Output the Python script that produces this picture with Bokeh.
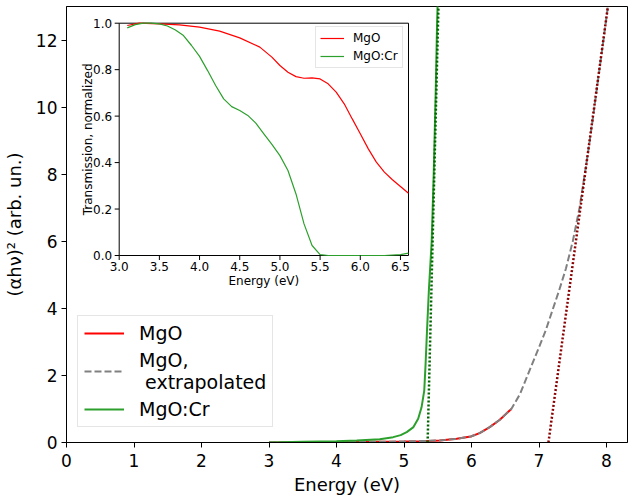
import math
from bokeh.plotting import figure
from bokeh.models import Range1d, Legend, LegendItem, FixedTicker
from bokeh.core.properties import value
from bokeh.embed import file_html
from bokeh.resources import INLINE

# ---------------- data (main plot) ----------------
energy_mgo = [3.0, 3.5, 4.0, 4.5, 5.0, 5.3, 5.53, 5.78, 5.99, 6.12, 6.27, 6.42, 6.59]
absorb_mgo = [0.0, 0.0, 0.01, 0.02, 0.03, 0.04, 0.06, 0.11, 0.18, 0.28, 0.46, 0.68, 1.0]

energy_extrap = [3.0, 4.0, 5.0, 5.53, 5.78, 5.99, 6.12, 6.27, 6.42, 6.59, 6.72, 6.85, 7.0,
                 7.1, 7.2, 7.3, 7.4, 7.5, 7.6, 7.7, 7.8, 7.9, 8.0, 8.05]
absorb_extrap = [0.0, 0.01, 0.03, 0.06, 0.11, 0.18, 0.28, 0.46, 0.68, 1.0, 1.45, 2.1, 2.84,
                 3.35, 3.95, 4.55, 5.2, 6.0, 7.0, 8.3, 9.7, 11.2, 12.7, 13.5]

energy_cr = [3.0, 3.5, 4.0, 4.3, 4.64, 4.84, 4.95, 5.04, 5.14, 5.21, 5.26, 5.30, 5.32, 5.34,
             5.37, 5.41, 5.44, 5.47, 5.49, 5.51]
absorb_cr = [0.0, 0.02, 0.04, 0.06, 0.1, 0.16, 0.22, 0.31, 0.46, 0.71, 1.05, 1.55, 2.35, 3.3,
             4.6, 6.0, 8.0, 10.5, 12.5, 14.0]

fit_mgo_x = [7.14, 8.04]
fit_mgo_y = [0.0, 13.3]
fit_cr_x = [5.35, 5.51]
fit_cr_y = [0.0, 13.0]

x_ticks = [0, 1, 2, 3, 4, 5, 6, 7, 8]
y_ticks = [0, 2, 4, 6, 8, 10, 12]

# ---------------- data (inset) ----------------
inset_energy_mgo = [3.1, 3.25, 3.5, 3.75, 4.0, 4.25, 4.5, 4.75, 4.9, 5.0, 5.1, 5.2, 5.3, 5.4,
                    5.5, 5.6, 5.7, 5.8, 5.9, 6.0, 6.1, 6.2, 6.3, 6.4, 6.5, 6.6]
inset_trans_mgo = [0.99, 1.0, 0.997, 0.993, 0.983, 0.966, 0.937, 0.897, 0.854, 0.818, 0.789,
                   0.770, 0.763, 0.765, 0.760, 0.739, 0.703, 0.653, 0.588, 0.524, 0.459, 0.402,
                   0.359, 0.326, 0.297, 0.268]
inset_energy_cr = [3.1, 3.2, 3.3, 3.4, 3.5, 3.6, 3.7, 3.8, 3.9, 4.0, 4.1, 4.2, 4.3, 4.4, 4.5,
                   4.6, 4.7, 4.8, 4.9, 5.0, 5.1, 5.2, 5.3, 5.4, 5.5, 5.6, 6.0, 6.3, 6.5, 6.6]
inset_trans_cr = [0.98, 0.994, 1.0, 1.0, 0.997, 0.988, 0.971, 0.947, 0.904, 0.857, 0.796, 0.732,
                  0.674, 0.641, 0.624, 0.603, 0.57, 0.524, 0.478, 0.430, 0.366, 0.265, 0.136,
                  0.043, 0.004, 0.0, 0.0, 0.0, 0.004, 0.01]
inset_xlim = [3.0, 6.6]
inset_ylim = [0.0, 1.0]
inset_x_ticks = [3.0, 3.5, 4.0, 4.5, 5.0, 5.5, 6.0, 6.5]
inset_x_labels = ["3.0", "3.5", "4.0", "4.5", "5.0", "5.5", "6.0", "6.5"]
inset_y_ticks = [0.0, 0.2, 0.4, 0.6, 0.8, 1.0]
inset_y_labels = ["0.0", "0.2", "0.4", "0.6", "0.8", "1.0"]

FONT = "DejaVu Sans"

# ---------------- layout (pixels) ----------------
FRAME_W, FRAME_H = 561, 436
X_PX = 67.5          # px per eV in main plot
Y_PX = 33.5          # px per unit in main plot

p = figure(frame_width=FRAME_W, frame_height=FRAME_H,
           min_border_left=58, min_border_right=1, min_border_top=6, min_border_bottom=48,
           x_range=Range1d(0, FRAME_W / X_PX), y_range=Range1d(0, FRAME_H / Y_PX),
           output_backend="svg", toolbar_location=None, background_fill_color="white")
p.grid.visible = False
p.outline_line_color = "black"
p.outline_line_width = 1

for ax in (p.xaxis[0], p.yaxis[0]):
    ax.major_tick_out = 5
    ax.major_tick_in = 0
    ax.minor_tick_out = 0
    ax.minor_tick_in = 0
    ax.axis_line_color = "black"
    ax.major_tick_line_color = "black"
    ax.major_label_text_font = FONT
    ax.major_label_text_font_size = "17px"
    ax.major_label_text_color = "black"
    ax.axis_label_text_font = FONT
    ax.axis_label_text_font_size = "18px"
    ax.axis_label_text_font_style = "normal"
    ax.axis_label_text_color = "black"
p.xaxis.ticker = FixedTicker(ticks=x_ticks)
p.yaxis.ticker = FixedTicker(ticks=y_ticks)
p.xaxis.axis_label = "Energy (eV)"
p.yaxis.axis_label = "(αhν)² (arb. un.)"
p.xaxis.major_label_standoff = 6
p.xaxis.axis_label_standoff = 4
p.yaxis.major_label_standoff = 4
p.yaxis.axis_label_standoff = 8

r_mgo = p.line(energy_mgo, absorb_mgo, line_color="#ff0000", line_width=2)
r_ext = p.line(energy_extrap, absorb_extrap, line_color="#808080", line_width=2, line_dash="7 3")
r_cr = p.line(energy_cr, absorb_cr, line_color="#2ca02c", line_width=2)
p.line(fit_mgo_x, fit_mgo_y, line_color="#8b0000", line_width=2.5, line_dash="2 2")
p.line(fit_cr_x, fit_cr_y, line_color="#006400", line_width=2.5, line_dash="2 2")

legend = Legend(items=[LegendItem(label="MgO", renderers=[r_mgo]),
                       LegendItem(label="MgO,\n extrapolated", renderers=[r_ext]),
                       LegendItem(label="MgO:Cr", renderers=[r_cr])],
                location=(11, 15), label_text_font=FONT, label_text_font_size="19px",
                label_text_color="black",
                glyph_width=40, glyph_height=22, label_height=22, label_standoff=15,
                spacing=5, padding=6, margin=0,
                border_line_color="#cccccc", border_line_width=1,
                background_fill_color="white", background_fill_alpha=0.8)
p.add_layout(legend)

# ---------------- inset (drawn on extra ranges) ----------------
inset_left_px, inset_right_px = 118.7 - 66, 408 - 66      # from frame left
inset_top_px, inset_bottom_px = 22.7 - 6, 255 - 6         # from frame top
ix_px = (inset_right_px - inset_left_px) / (inset_xlim[1] - inset_xlim[0])
iy_px = (inset_bottom_px - inset_top_px) / (inset_ylim[1] - inset_ylim[0])
ix_start = inset_xlim[0] - inset_left_px / ix_px
iy_start = inset_ylim[0] - (FRAME_H - inset_bottom_px) / iy_px
p.extra_x_ranges = {"ix": Range1d(ix_start, ix_start + FRAME_W / ix_px)}
p.extra_y_ranges = {"iy": Range1d(iy_start, iy_start + FRAME_H / iy_px)}
IR = dict(x_range_name="ix", y_range_name="iy")

p.quad(left=[inset_xlim[0]], right=[inset_xlim[1]], bottom=[inset_ylim[0]], top=[inset_ylim[1]],
       fill_color="white", line_color="black", line_width=1, **IR)
ri_mgo = p.line(inset_energy_mgo, inset_trans_mgo, line_color="#ff0000", line_width=1.2, **IR)
ri_cr = p.line(inset_energy_cr, inset_trans_cr, line_color="#2ca02c", line_width=1.2, **IR)

# inset ticks
p.ray(x=inset_x_ticks, y=[inset_ylim[0]] * len(inset_x_ticks), length=4.5, length_units="screen",
      angle=-math.pi / 2, line_color="black", line_width=1, **IR)
p.ray(x=[inset_xlim[0]] * len(inset_y_ticks), y=inset_y_ticks, length=4.5, length_units="screen",
      angle=math.pi, line_color="black", line_width=1, **IR)
p.text(x=inset_x_ticks, y=[inset_ylim[0]] * len(inset_x_ticks), text=inset_x_labels,
       text_align="center", text_baseline="top", y_offset=6,
       text_font=value(FONT), text_font_size="12px", text_color="black", **IR)
p.text(x=[inset_xlim[0]] * len(inset_y_ticks), y=inset_y_ticks, text=inset_y_labels,
       text_align="right", text_baseline="middle", x_offset=-7,
       text_font=value(FONT), text_font_size="12px", text_color="black", **IR)
p.text(x=[(inset_xlim[0] + inset_xlim[1]) / 2], y=[inset_ylim[0]], text=["Energy (eV)"],
       text_align="center", text_baseline="middle", y_offset=25,
       text_font=value(FONT), text_font_size="12px", text_color="black", **IR)
p.text(x=[inset_xlim[0]], y=[(inset_ylim[0] + inset_ylim[1]) / 2], text=["Transmission, normalized"],
       angle=math.pi / 2, text_align="center", text_baseline="middle", x_offset=-31,
       text_font=value(FONT), text_font_size="12px", text_color="black", **IR)

legend2 = Legend(items=[LegendItem(label="MgO", renderers=[ri_mgo]),
                        LegendItem(label="MgO:Cr", renderers=[ri_cr])],
                 location=(249, 374), label_text_font=FONT, label_text_font_size="12px",
                 label_text_color="black",
                 glyph_width=24, glyph_height=14, label_height=14, label_standoff=9,
                 spacing=4, padding=4, margin=0,
                 border_line_color="#cccccc", border_line_width=1,
                 background_fill_color="white", background_fill_alpha=0.8)
p.add_layout(legend2)

open("out.html", "w").write(file_html(p, INLINE))
